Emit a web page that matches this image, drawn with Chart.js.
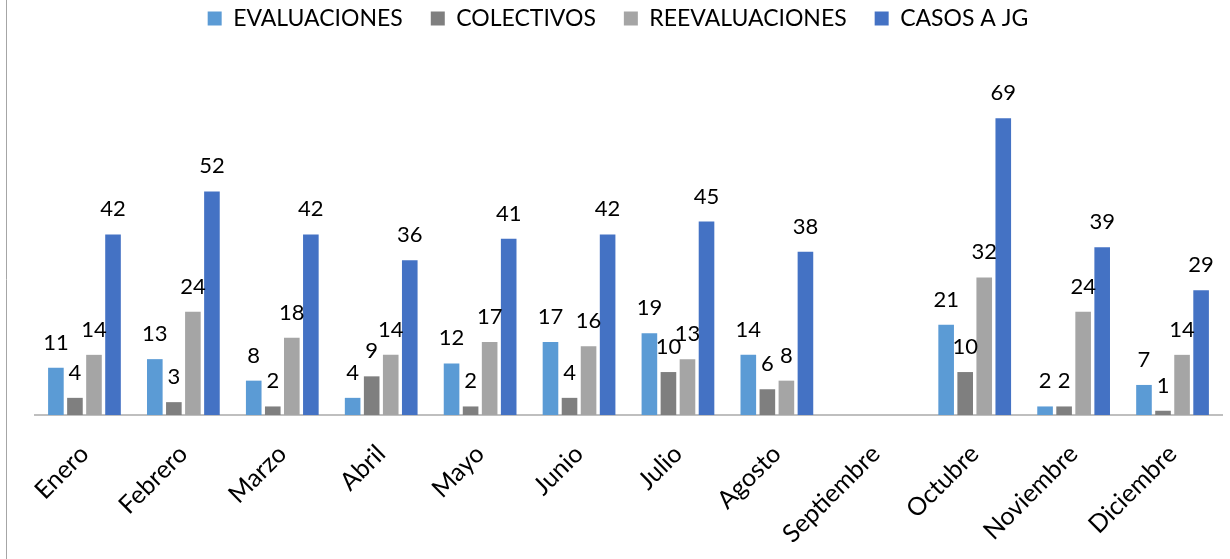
<!DOCTYPE html>
<html>
<head>
<meta charset="utf-8">
<script src="https://cdn.jsdelivr.net/npm/chart.js@4"></script>
<style>
  body { margin: 0; background: #fff; }
  #wrap { position: relative; width: 1230px; height: 559px; }
</style>
</head>
<body>
<div id="wrap"><canvas id="barChart"></canvas></div>
<script>
const months = ['Enero', 'Febrero', 'Marzo', 'Abril', 'Mayo', 'Junio', 'Julio', 'Agosto', 'Septiembre', 'Octubre', 'Noviembre', 'Diciembre'];
const evaluaciones = [11, 13, 8, 4, 12, 17, 19, 14, null, 21, 2, 7];
const colectivos = [4, 3, 2, 9, 2, 4, 10, 6, null, 10, 2, 1];
const reevaluaciones = [14, 24, 18, 14, 17, 16, 13, 8, null, 32, 24, 14];
const casosJG = [42, 52, 42, 36, 41, 42, 45, 38, null, 69, 39, 29];

const fontFamily = 'Lato, "Open Sans", sans-serif';

// value labels above each bar
const valueLabels = {
  id: 'valueLabels',
  afterDatasetsDraw(chart) {
    const ctx = chart.ctx;
    ctx.save();
    ctx.font = '22px ' + fontFamily;
    ctx.fillStyle = '#000';
    ctx.textAlign = 'center';
    ctx.textBaseline = 'alphabetic';
    chart.data.datasets.forEach((ds, i) => {
      const meta = chart.getDatasetMeta(i);
      meta.data.forEach((bar, j) => {
        const v = ds.data[j];
        if (v === null || v === undefined) return;
        ctx.fillText(v, bar.x, bar.y - 18);
      });
    });
    ctx.restore();
  }
};

// thin frame line on the left edge
const leftEdge = {
  id: 'leftEdge',
  beforeDraw(chart) {
    const ctx = chart.ctx;
    ctx.save();
    ctx.strokeStyle = '#A6A6A6';
    ctx.lineWidth = 1;
    ctx.beginPath();
    ctx.moveTo(6.5, 0);
    ctx.lineTo(6.5, chart.height);
    ctx.stroke();
    ctx.restore();
  }
};

// extra room under the legend
const legendGap = {
  id: 'legendGap',
  beforeInit(chart) {
    const fit = chart.legend.fit;
    chart.legend.fit = function () {
      fit.bind(chart.legend)();
      this.height += 31;
    };
  }
};

const data = {
  labels: months,
  datasets: [
    { label: 'EVALUACIONES', data: evaluaciones, backgroundColor: '#5B9BD5' },
    { label: 'COLECTIVOS', data: colectivos, backgroundColor: '#7F7F7F' },
    { label: 'REEVALUACIONES', data: reevaluaciones, backgroundColor: '#A5A5A5' },
    { label: 'CASOS A JG', data: casosJG, backgroundColor: '#4472C4' }
  ]
};

const myChart = new Chart('barChart', {
  type: 'bar',
  data: data,
  plugins: [valueLabels, leftEdge, legendGap],
  options: {
    responsive: true,
    maintainAspectRatio: false,
    animation: false,
    datasets: {
      bar: { categoryPercentage: 0.77, barPercentage: 0.82 }
    },
    layout: { padding: { left: 14, right: 8, top: -21, bottom: -14 } },
    plugins: {
      legend: {
        position: 'top',
        labels: {
          boxWidth: 14,
          boxHeight: 14,
          padding: 28,
          color: '#000',
          font: { family: fontFamily, size: 23 }
        }
      },
      tooltip: { enabled: false }
    },
    scales: {
      x: {
        grid: { display: false, drawTicks: false },
        border: { color: '#BFBFBF', width: 2 },
        ticks: {
          color: '#000',
          maxRotation: 45,
          minRotation: 45,
          padding: 24,
          font: { family: fontFamily, size: 25 }
        }
      },
      y: {
        min: 0,
        max: 80,
        grid: { display: false },
        border: { display: false },
        ticks: { display: false },
        afterFit(scale) { scale.width = 21; }
      }
    }
  }
});
</script>
</body>
</html>
